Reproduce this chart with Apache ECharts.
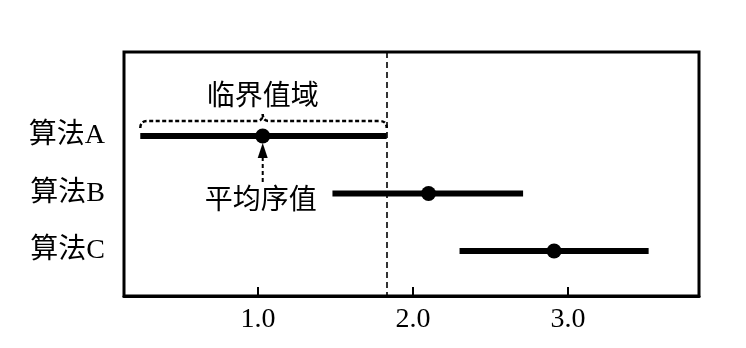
<!DOCTYPE html>
<html>
<head>
<meta charset="utf-8">
<script src="https://cdn.jsdelivr.net/npm/echarts@6/dist/echarts.min.js"></script>
<style>
  html, body { margin: 0; padding: 0; background: #fff; }
  #chart { width: 746px; height: 348px; }
</style>
</head>
<body>
<div id="chart"></div>
<script>
// ---- data ----
const algorithms = ['算法A', '算法B', '算法C'];
const rowPos = [1, 2, 3];
const meanRank = [1.03, 2.10, 2.91];
const lowerBound = [0.24, 1.48, 2.30];
const upperBound = [1.83, 2.71, 3.52];
const criticalValue = 1.83;
const xTicks = [1, 2, 3];
const braceLabel = '临界值域';
const arrowLabel = '平均序值';

const SERIF = "'Liberation Serif','DejaVu Serif','Noto Sans CJK SC',serif";
const CJK = "'Noto Sans CJK SC','Liberation Serif',serif";

const chart = echarts.init(document.getElementById('chart'), null, { renderer: 'canvas' });

const option = {
  animation: false,
  backgroundColor: '#fff',
  grid: {
    left: 124, top: 52, right: 47, bottom: 52,
    show: true, borderColor: '#000', borderWidth: 3,
    containLabel: false, outerBoundsMode: 'none'
  },
  xAxis: {
    type: 'value',
    min: 0.135, max: 3.845,
    splitLine: { show: false },
    axisLine: { show: true, onZero: false, lineStyle: { color: '#000', width: 3 } },
    axisTick: { show: true, inside: true, length: 9, customValues: xTicks, lineStyle: { color: '#000', width: 2 } },
    axisLabel: {
      customValues: xTicks, margin: 10,
      formatter: v => Number(v).toFixed(1),
      color: '#000', fontSize: 28, fontFamily: SERIF
    }
  },
  yAxis: {
    type: 'value',
    inverse: true,
    min: -0.461, max: 3.782,
    splitLine: { show: false },
    axisLine: { show: false },
    axisTick: { show: false },
    axisLabel: {
      customValues: rowPos, margin: 19,
      formatter: v => algorithms[rowPos.indexOf(Math.round(v))] || '',
      color: '#000', fontSize: 28, fontFamily: SERIF
    }
  },
  series: [
    {
      type: 'custom',
      name: 'interval',
      data: algorithms.map((n, i) => [lowerBound[i], upperBound[i], rowPos[i]]),
      renderItem: (params, api) => {
        const a = api.coord([api.value(0), api.value(2)]);
        const b = api.coord([api.value(1), api.value(2)]);
        return {
          type: 'line',
          shape: { x1: a[0], y1: a[1], x2: b[0], y2: b[1] },
          style: { stroke: '#000', lineWidth: 6, lineCap: 'butt' }
        };
      },
      z: 3
    },
    {
      type: 'scatter',
      name: 'mean',
      data: meanRank.map((m, i) => [m, rowPos[i]]),
      symbol: 'circle',
      symbolSize: 15,
      itemStyle: { color: '#000', opacity: 1 },
      z: 4,
      markLine: {
        silent: true,
        symbol: 'none',
        label: { show: false },
        lineStyle: { color: '#000', width: 1.6, type: [6, 4], opacity: 1 },
        data: [{ xAxis: criticalValue }]
      }
    },
    {
      type: 'custom',
      name: 'annotation',
      data: [[meanRank[0], rowPos[0], lowerBound[0], upperBound[0]]],
      renderItem: (params, api) => {
        const c = api.coord([api.value(0), api.value(1)]);
        const l = api.coord([api.value(2), api.value(1)]);
        const r = api.coord([api.value(3), api.value(1)]);
        const by = c[1] - 15;
        const path =
          `M${l[0]},${by + 7} Q${l[0]},${by} ${l[0] + 7},${by} ` +
          `L${c[0] - 6},${by} Q${c[0]},${by} ${c[0]},${by - 7} ` +
          `Q${c[0]},${by} ${c[0] + 6},${by} ` +
          `L${r[0] - 7},${by} Q${r[0]},${by} ${r[0]},${by + 7}`;
        return {
          type: 'group',
          children: [
            {
              type: 'path',
              shape: { pathData: path },
              style: { stroke: '#000', fill: null, lineWidth: 2.5, lineDash: [4, 2.5] }
            },
            {
              type: 'text',
              style: {
                text: braceLabel, x: c[0], y: c[1] - 42,
                align: 'center', verticalAlign: 'middle',
                fill: '#000', fontSize: 28, fontFamily: CJK
              }
            },
            {
              type: 'line',
              shape: { x1: c[0], y1: c[1] + 21, x2: c[0], y2: c[1] + 47 },
              style: { stroke: '#000', lineWidth: 2, lineDash: [4, 3] }
            },
            {
              type: 'polygon',
              shape: { points: [[c[0], c[1] + 7], [c[0] - 5, c[1] + 22], [c[0] + 5, c[1] + 22]] },
              style: { fill: '#000' }
            },
            {
              type: 'text',
              style: {
                text: arrowLabel, x: c[0] - 2, y: c[1] + 62,
                align: 'center', verticalAlign: 'middle',
                fill: '#000', fontSize: 28, fontFamily: CJK
              }
            }
          ]
        };
      },
      z: 5
    }
  ]
};

chart.setOption(option);
</script>
</body>
</html>
